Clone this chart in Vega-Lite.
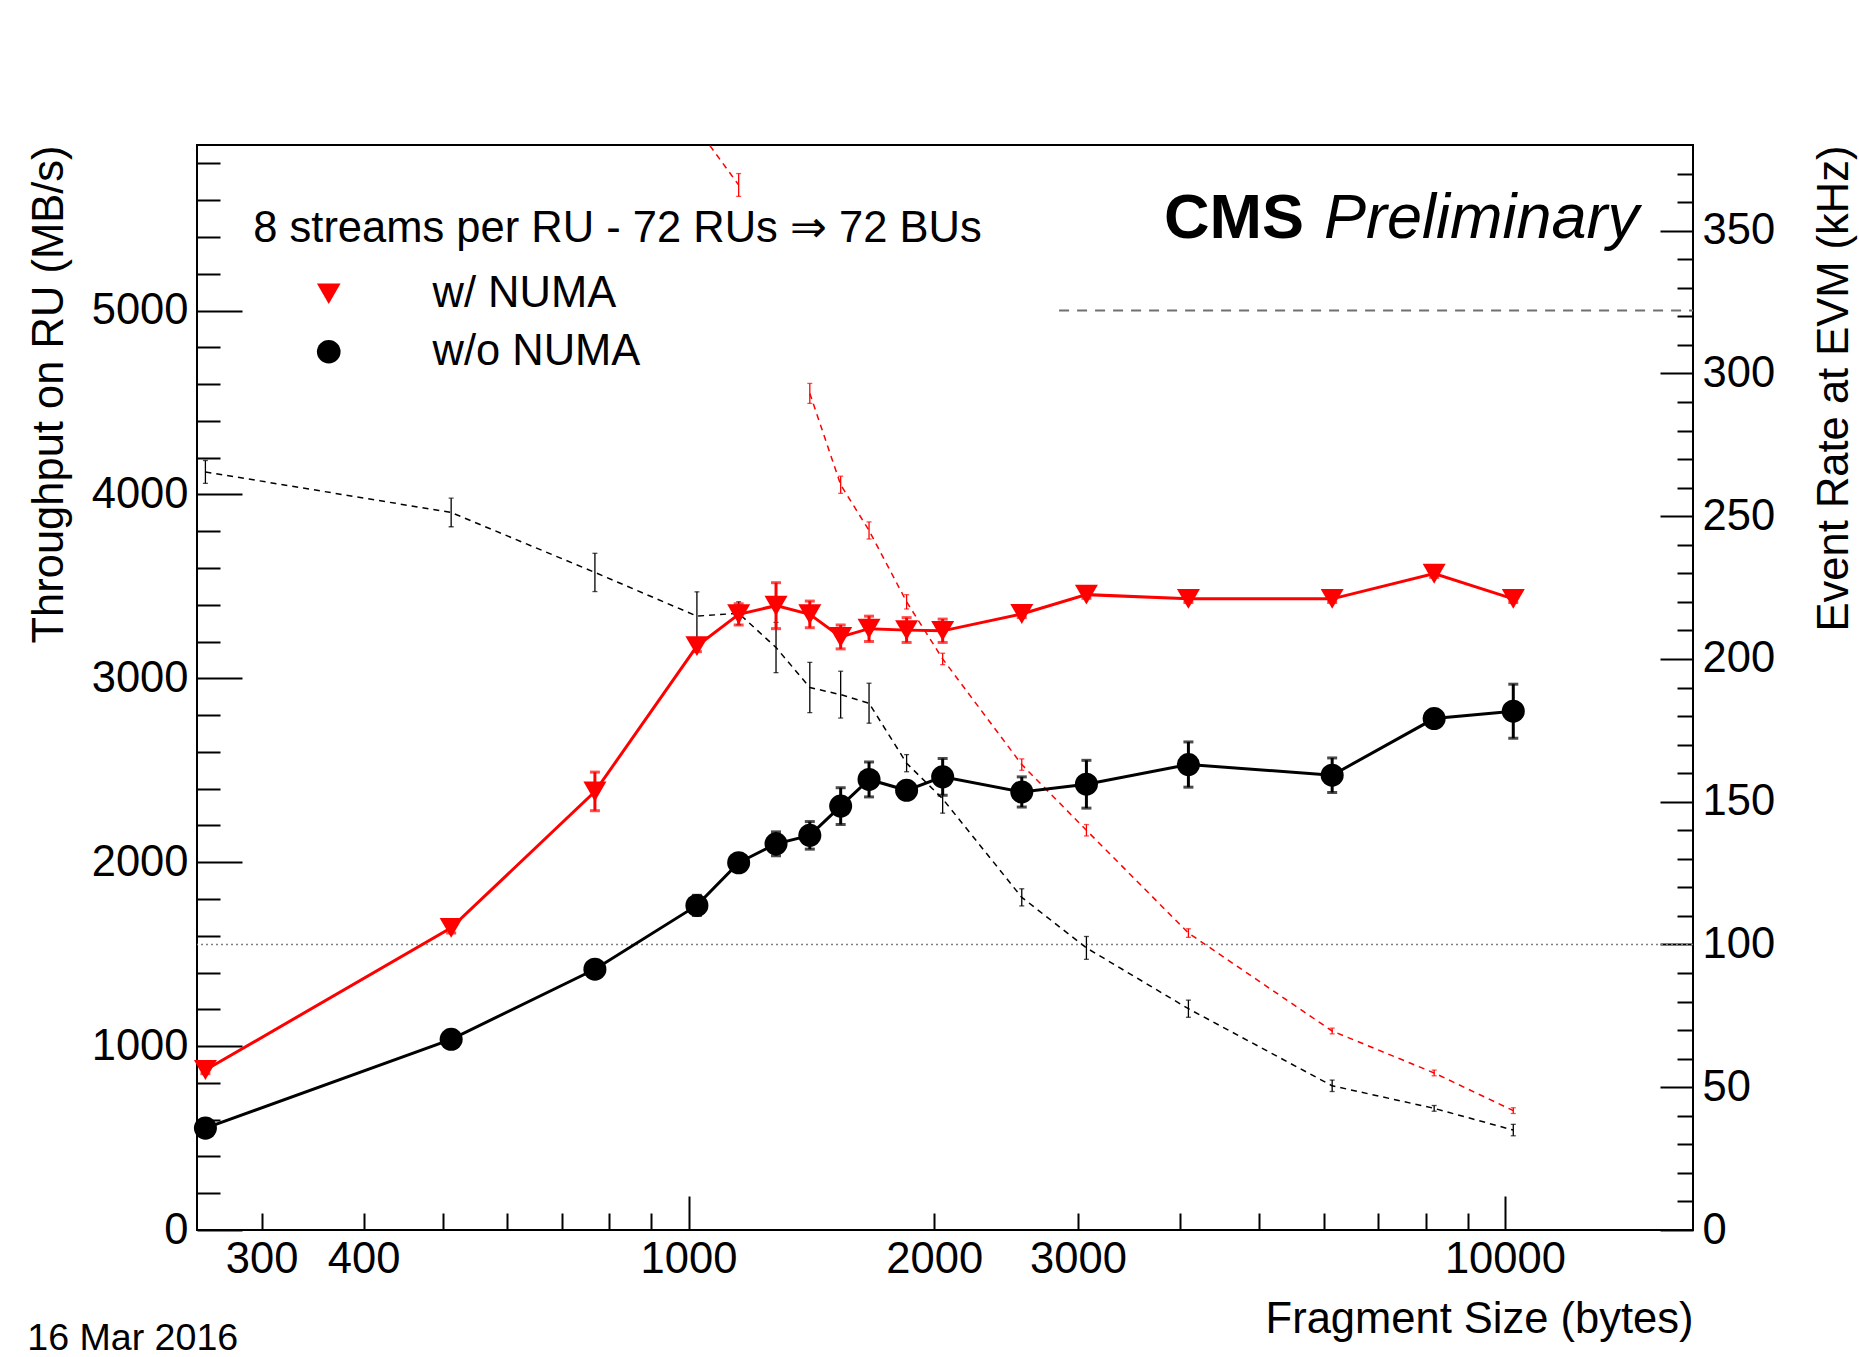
{
  "$schema": "https://vega.github.io/schema/vega-lite/v6.json",
  "width": 1496,
  "height": 1085,
  "autosize": {"type": "none"},
  "padding": {"left": 197, "top": 145, "right": 166, "bottom": 127},
  "background": "white",
  "title": {"text": "16 Mar 2016", "orient": "bottom", "anchor": "start", "frame": "bounds", "font": "Liberation Sans", "fontSize": 37.6, "fontWeight": "normal", "color": "black", "offset": -21},
  "config": {
    "view": {"stroke": "black", "strokeWidth": 2},
    "font": "Liberation Sans",
    "axis": {"domain": false, "grid": false, "tickColor": "black", "tickWidth": 2, "labelColor": "black", "labelFont": "Liberation Sans", "labelFontSize": 43.5, "titleFont": "Liberation Sans", "titleFontSize": 43.5, "titleFontWeight": "normal", "titleColor": "black", "labelFlush": false, "labelOverlap": false}
  },
  "datasets": {
    "tp": [
      {"size": 256, "tp": 870, "lo": 850, "hi": 890, "series": "w/ NUMA"},
      {"size": 512, "tp": 1643, "lo": 1615, "hi": 1671, "series": "w/ NUMA"},
      {"size": 768, "tp": 2384, "lo": 2280, "hi": 2490, "series": "w/ NUMA"},
      {"size": 1024, "tp": 3175, "lo": 3145, "hi": 3205, "series": "w/ NUMA"},
      {"size": 1152, "tp": 3348, "lo": 3290, "hi": 3405, "series": "w/ NUMA"},
      {"size": 1280, "tp": 3395, "lo": 3270, "hi": 3520, "series": "w/ NUMA"},
      {"size": 1408, "tp": 3348, "lo": 3275, "hi": 3420, "series": "w/ NUMA"},
      {"size": 1536, "tp": 3225, "lo": 3160, "hi": 3290, "series": "w/ NUMA"},
      {"size": 1664, "tp": 3270, "lo": 3200, "hi": 3338, "series": "w/ NUMA"},
      {"size": 1850, "tp": 3262, "lo": 3195, "hi": 3330, "series": "w/ NUMA"},
      {"size": 2048, "tp": 3258, "lo": 3195, "hi": 3322, "series": "w/ NUMA"},
      {"size": 2560, "tp": 3350, "lo": 3330, "hi": 3370, "series": "w/ NUMA"},
      {"size": 3072, "tp": 3455, "lo": 3435, "hi": 3475, "series": "w/ NUMA"},
      {"size": 4096, "tp": 3432, "lo": 3412, "hi": 3452, "series": "w/ NUMA"},
      {"size": 6144, "tp": 3432, "lo": 3412, "hi": 3452, "series": "w/ NUMA"},
      {"size": 8192, "tp": 3569, "lo": 3549, "hi": 3589, "series": "w/ NUMA"},
      {"size": 10240, "tp": 3432, "lo": 3412, "hi": 3452, "series": "w/ NUMA"},
      {"size": 256, "tp": 554, "lo": 539, "hi": 569, "series": "w/o NUMA"},
      {"size": 512, "tp": 1037, "lo": 1022, "hi": 1052, "series": "w/o NUMA"},
      {"size": 768, "tp": 1418, "lo": 1398, "hi": 1438, "series": "w/o NUMA"},
      {"size": 1024, "tp": 1765, "lo": 1710, "hi": 1820, "series": "w/o NUMA"},
      {"size": 1152, "tp": 1997, "lo": 1957, "hi": 2037, "series": "w/o NUMA"},
      {"size": 1280, "tp": 2100, "lo": 2035, "hi": 2165, "series": "w/o NUMA"},
      {"size": 1408, "tp": 2146, "lo": 2071, "hi": 2221, "series": "w/o NUMA"},
      {"size": 1536, "tp": 2305, "lo": 2205, "hi": 2405, "series": "w/o NUMA"},
      {"size": 1664, "tp": 2450, "lo": 2355, "hi": 2545, "series": "w/o NUMA"},
      {"size": 1850, "tp": 2391, "lo": 2351, "hi": 2431, "series": "w/o NUMA"},
      {"size": 2048, "tp": 2464, "lo": 2364, "hi": 2564, "series": "w/o NUMA"},
      {"size": 2560, "tp": 2382, "lo": 2300, "hi": 2464, "series": "w/o NUMA"},
      {"size": 3072, "tp": 2424, "lo": 2294, "hi": 2554, "series": "w/o NUMA"},
      {"size": 4096, "tp": 2531, "lo": 2408, "hi": 2654, "series": "w/o NUMA"},
      {"size": 6144, "tp": 2473, "lo": 2379, "hi": 2567, "series": "w/o NUMA"},
      {"size": 8192, "tp": 2781, "lo": 2761, "hi": 2801, "series": "w/o NUMA"},
      {"size": 10240, "tp": 2821, "lo": 2674, "hi": 2968, "series": "w/o NUMA"}
    ],
    "rate": [
      {"size": 1024, "rate": 386, "lo": 383, "hi": 389, "series": "w/ NUMA", "seg": "a"},
      {"size": 1152, "rate": 366, "lo": 362, "hi": 370, "series": "w/ NUMA", "seg": "a"},
      {"size": 1408, "rate": 293, "lo": 289.5, "hi": 296.5, "series": "w/ NUMA", "seg": "b"},
      {"size": 1536, "rate": 261, "lo": 258, "hi": 264, "series": "w/ NUMA", "seg": "b"},
      {"size": 1664, "rate": 245, "lo": 242, "hi": 248, "series": "w/ NUMA", "seg": "b"},
      {"size": 1850, "rate": 220, "lo": 217.5, "hi": 222.5, "series": "w/ NUMA", "seg": "b"},
      {"size": 2048, "rate": 200, "lo": 198, "hi": 202, "series": "w/ NUMA", "seg": "b"},
      {"size": 2560, "rate": 163, "lo": 161, "hi": 165, "series": "w/ NUMA", "seg": "b"},
      {"size": 3072, "rate": 140, "lo": 138, "hi": 142, "series": "w/ NUMA", "seg": "b"},
      {"size": 4096, "rate": 104, "lo": 102.5, "hi": 105.5, "series": "w/ NUMA", "seg": "b"},
      {"size": 6144, "rate": 69.7, "lo": 68.7, "hi": 70.7, "series": "w/ NUMA", "seg": "b"},
      {"size": 8192, "rate": 55, "lo": 54, "hi": 56, "series": "w/ NUMA", "seg": "b"},
      {"size": 10240, "rate": 41.8, "lo": 40.8, "hi": 42.8, "series": "w/ NUMA", "seg": "b"},
      {"size": 256, "rate": 265.5, "lo": 261.5, "hi": 269.5, "series": "w/o NUMA", "seg": "c"},
      {"size": 512, "rate": 251.3, "lo": 246.3, "hi": 256.3, "series": "w/o NUMA", "seg": "c"},
      {"size": 768, "rate": 230.3, "lo": 223.6, "hi": 237, "series": "w/o NUMA", "seg": "c"},
      {"size": 1024, "rate": 215, "lo": 206.5, "hi": 223.5, "series": "w/o NUMA", "seg": "c"},
      {"size": 1152, "rate": 216, "lo": 212, "hi": 220, "series": "w/o NUMA", "seg": "c"},
      {"size": 1280, "rate": 204, "lo": 195.2, "hi": 212.8, "series": "w/o NUMA", "seg": "c"},
      {"size": 1408, "rate": 190, "lo": 181.2, "hi": 198.8, "series": "w/o NUMA", "seg": "c"},
      {"size": 1536, "rate": 187.5, "lo": 179.3, "hi": 195.7, "series": "w/o NUMA", "seg": "c"},
      {"size": 1664, "rate": 184.5, "lo": 177.5, "hi": 191.5, "series": "w/o NUMA", "seg": "c"},
      {"size": 1850, "rate": 163.5, "lo": 160.5, "hi": 166.5, "series": "w/o NUMA", "seg": "c"},
      {"size": 2048, "rate": 151, "lo": 146, "hi": 156, "series": "w/o NUMA", "seg": "c"},
      {"size": 2560, "rate": 116.5, "lo": 113.5, "hi": 119.5, "series": "w/o NUMA", "seg": "c"},
      {"size": 3072, "rate": 98.8, "lo": 94.8, "hi": 102.8, "series": "w/o NUMA", "seg": "c"},
      {"size": 4096, "rate": 77.5, "lo": 74.5, "hi": 80.5, "series": "w/o NUMA", "seg": "c"},
      {"size": 6144, "rate": 50.5, "lo": 48.5, "hi": 52.5, "series": "w/o NUMA", "seg": "c"},
      {"size": 8192, "rate": 42.6, "lo": 41.6, "hi": 43.6, "series": "w/o NUMA", "seg": "c"},
      {"size": 10240, "rate": 35, "lo": 33, "hi": 37, "series": "w/o NUMA", "seg": "c"}
    ]
  },
  "layer": [
    {
      "data": {"values": [{"s": 1000, "v": 0}]},
      "mark": {"type": "point", "opacity": 0},
      "encoding": {
        "x": {"field": "s", "type": "quantitative", "scale": {"type": "log", "domain": [250, 17000], "nice": false},
          "axis": {"orient": "bottom", "title": null, "values": [300,400,500,600,700,800,900,2000,3000,4000,5000,6000,7000,8000,9000], "format": "d",
            "labelExpr": "indexof([300,400,2000,3000], datum.value) >= 0 ? datum.label : ''", "tickSize": -17, "labelPadding": 25}},
        "y": {"field": "v", "type": "quantitative", "scale": {"domain": [0, 5900], "nice": false, "zero": false},
          "axis": {"orient": "left", "title": null, "labels": false, "tickSize": -23,
            "values": [200,400,600,800,1200,1400,1600,1800,2200,2400,2600,2800,3200,3400,3600,3800,4200,4400,4600,4800,5200,5400,5600,5800]}}
      }
    },
    {
      "data": {"values": [{"s": 1000, "v": 0}]},
      "mark": {"type": "point", "opacity": 0},
      "encoding": {
        "x": {"field": "s", "type": "quantitative", "scale": {"type": "log", "domain": [250, 17000], "nice": false}, "axis": null},
        "y": {"field": "v", "type": "quantitative", "scale": {"domain": [0, 380], "nice": false, "zero": false},
          "axis": {"orient": "right", "title": null, "labels": false, "tickSize": -16,
            "values": [10,20,30,40,60,70,80,90,110,120,130,140,160,170,180,190,210,220,230,240,260,270,280,290,310,320,330,340,360,370]}}
      }
    },
    {
      "data": {"values": [{"s": 1000, "v": 0}]},
      "mark": {"type": "point", "opacity": 0},
      "encoding": {
        "x": {"field": "s", "type": "quantitative", "scale": {"type": "log", "domain": [250, 17000], "nice": false},
          "axis": {"orient": "bottom", "title": "Fragment Size (bytes)", "titleAnchor": "end", "titleAlign": "right", "titlePadding": 18,
            "values": [1000, 10000], "format": "d", "tickSize": -34, "labelPadding": 42}},
        "y": {"field": "v", "type": "quantitative", "scale": {"domain": [0, 5900], "nice": false, "zero": false},
          "axis": {"orient": "left", "title": "Throughput on RU (MB/s)", "titleAnchor": "end", "titleAlign": "right", "titlePadding": 20,
            "values": [0,1000,2000,3000,4000,5000], "format": "d", "labelAlign": "right", "labelBaseline": "middle",
            "tickSize": -45, "labelPadding": 54}}
      }
    },
    {
      "data": {"values": [{"s": 1000, "v": 0}]},
      "mark": {"type": "point", "opacity": 0},
      "encoding": {
        "x": {"field": "s", "type": "quantitative", "scale": {"type": "log", "domain": [250, 17000], "nice": false}, "axis": null},
        "y": {"field": "v", "type": "quantitative", "scale": {"domain": [0, 380], "nice": false, "zero": false},
          "axis": {"orient": "right", "title": "Event Rate at EVM (kHz)", "titleAngle": -90, "titleAlign": "right", "titleAnchor": "end", "titleBaseline": "top", "titlePadding": 39,
            "values": [0,50,100,150,200,250,300,350], "format": "d", "labelAlign": "left", "labelBaseline": "middle",
            "tickSize": -33, "labelPadding": 42}}
      }
    },
    {
      "layer": [
        {
          "data": {"values": [{"kHz": 100}]},
          "mark": {"type": "rule", "stroke": "#808080", "strokeWidth": 1.5, "strokeDash": [2, 3]},
          "encoding": {
            "y": {"field": "kHz", "type": "quantitative", "scale": {"domain": [0, 380], "nice": false, "zero": false}, "axis": null}
          }
        },
        {
          "data": {"name": "rate"},
          "mark": {"type": "line", "strokeWidth": 1.5, "strokeDash": [6, 5], "clip": true},
          "encoding": {
            "x": {"field": "size", "type": "quantitative", "scale": {"type": "log", "domain": [250, 17000], "nice": false}, "axis": null},
            "y": {"field": "rate", "type": "quantitative", "scale": {"domain": [0, 380], "nice": false, "zero": false}, "axis": null},
            "stroke": {"field": "series", "type": "nominal", "scale": {"range": ["#ff0000", "#000000"]}, "legend": null},
            "detail": {"field": "seg", "type": "nominal"}
          }
        },
        {
          "data": {"name": "rate"},
          "mark": {"type": "rule", "strokeWidth": 1.3, "clip": true},
          "encoding": {
            "x": {"field": "size", "type": "quantitative", "scale": {"type": "log", "domain": [250, 17000], "nice": false}, "axis": null},
            "y": {"field": "lo", "type": "quantitative", "scale": {"domain": [0, 380], "nice": false, "zero": false}, "axis": null},
            "y2": {"field": "hi"},
            "stroke": {"field": "series", "type": "nominal", "scale": {"range": ["#ff0000", "#000000"]}, "legend": null}
          }
        },
        {
          "data": {"name": "rate"},
          "mark": {"type": "tick", "orient": "horizontal", "size": 5, "thickness": 1.3, "clip": true},
          "encoding": {
            "x": {"field": "size", "type": "quantitative", "scale": {"type": "log", "domain": [250, 17000], "nice": false}, "axis": null},
            "y": {"field": "lo", "type": "quantitative", "scale": {"domain": [0, 380], "nice": false, "zero": false}, "axis": null},
            "fill": {"field": "series", "type": "nominal", "scale": {"range": ["#ff0000", "#000000"]}, "legend": null}
          }
        },
        {
          "data": {"name": "rate"},
          "mark": {"type": "tick", "orient": "horizontal", "size": 5, "thickness": 1.3, "clip": true},
          "encoding": {
            "x": {"field": "size", "type": "quantitative", "scale": {"type": "log", "domain": [250, 17000], "nice": false}, "axis": null},
            "y": {"field": "hi", "type": "quantitative", "scale": {"domain": [0, 380], "nice": false, "zero": false}, "axis": null},
            "fill": {"field": "series", "type": "nominal", "scale": {"range": ["#ff0000", "#000000"]}, "legend": null}
          }
        }
      ]
    },
    {
      "layer": [
        {
          "data": {"values": [{"from": 2844, "to": 17000, "mbs": 5000}]},
          "mark": {"type": "rule", "stroke": "#707070", "strokeWidth": 2, "strokeDash": [10, 8]},
          "encoding": {
            "x": {"field": "from", "type": "quantitative", "scale": {"type": "log", "domain": [250, 17000], "nice": false}, "axis": null},
            "x2": {"field": "to"},
            "y": {"field": "mbs", "type": "quantitative", "scale": {"domain": [0, 5900], "nice": false, "zero": false}, "axis": null}
          }
        },
        {
          "data": {"name": "tp"},
          "mark": {"type": "line", "strokeWidth": 3},
          "encoding": {
            "x": {"field": "size", "type": "quantitative", "scale": {"type": "log", "domain": [250, 17000], "nice": false}, "axis": null},
            "y": {"field": "tp", "type": "quantitative", "scale": {"domain": [0, 5900], "nice": false, "zero": false}, "axis": null},
            "stroke": {"field": "series", "type": "nominal", "scale": {"range": ["#ff0000", "#000000"]}, "legend": null}
          }
        },
        {
          "data": {"name": "tp"},
          "mark": {"type": "rule", "strokeWidth": 3},
          "encoding": {
            "x": {"field": "size", "type": "quantitative", "scale": {"type": "log", "domain": [250, 17000], "nice": false}, "axis": null},
            "y": {"field": "lo", "type": "quantitative", "scale": {"domain": [0, 5900], "nice": false, "zero": false}, "axis": null},
            "y2": {"field": "hi"},
            "stroke": {"field": "series", "type": "nominal", "scale": {"range": ["#ff0000", "#000000"]}, "legend": null}
          }
        },
        {
          "data": {"name": "tp"},
          "mark": {"type": "tick", "orient": "horizontal", "size": 10, "thickness": 3},
          "encoding": {
            "x": {"field": "size", "type": "quantitative", "scale": {"type": "log", "domain": [250, 17000], "nice": false}, "axis": null},
            "y": {"field": "lo", "type": "quantitative", "scale": {"domain": [0, 5900], "nice": false, "zero": false}, "axis": null},
            "fill": {"field": "series", "type": "nominal", "scale": {"range": ["#ff0000", "#000000"]}, "legend": null}
          }
        },
        {
          "data": {"name": "tp"},
          "mark": {"type": "tick", "orient": "horizontal", "size": 10, "thickness": 3},
          "encoding": {
            "x": {"field": "size", "type": "quantitative", "scale": {"type": "log", "domain": [250, 17000], "nice": false}, "axis": null},
            "y": {"field": "hi", "type": "quantitative", "scale": {"domain": [0, 5900], "nice": false, "zero": false}, "axis": null},
            "fill": {"field": "series", "type": "nominal", "scale": {"range": ["#ff0000", "#000000"]}, "legend": null}
          }
        },
        {
          "data": {"name": "tp"},
          "mark": {"type": "point", "filled": true, "size": 530, "opacity": 1, "strokeWidth": 0},
          "encoding": {
            "x": {"field": "size", "type": "quantitative", "scale": {"type": "log", "domain": [250, 17000], "nice": false}, "axis": null},
            "y": {"field": "tp", "type": "quantitative", "scale": {"domain": [0, 5900], "nice": false, "zero": false}, "axis": null},
            "color": {"field": "series", "type": "nominal", "scale": {"domain": ["w/ NUMA", "w/o NUMA"], "range": ["#ff0000", "#000000"]},
              "legend": {"title": null, "orient": "none", "legendX": 110, "legendY": 127, "padding": 0, "labelFontSize": 43.5, "labelFont": "Liberation Sans", "labelColor": "black", "labelOffset": 82, "labelLimit": 0, "rowPadding": 13, "symbolSize": 560, "symbolStrokeWidth": 0, "symbolOpacity": 1}},
            "shape": {"field": "series", "type": "nominal", "scale": {"domain": ["w/ NUMA", "w/o NUMA"], "range": ["triangle-down", "circle"]},
              "legend": {"title": null, "orient": "none", "legendX": 110, "legendY": 127, "padding": 0, "labelFontSize": 43.5, "labelFont": "Liberation Sans", "labelColor": "black", "labelOffset": 82, "labelLimit": 0, "rowPadding": 13, "symbolSize": 560, "symbolStrokeWidth": 0, "symbolOpacity": 1}}
          }
        },
        {
          "data": {"values": [{}]},
          "mark": {"type": "text", "text": "8 streams per RU - 72 RUs ⇒ 72 BUs", "align": "left", "baseline": "alphabetic", "font": "Liberation Sans", "fontSize": 43.5, "color": "black"},
          "encoding": {
            "x": {"datum": 293, "type": "quantitative", "axis": null},
            "y": {"datum": 5370, "type": "quantitative", "axis": null}
          }
        },
        {
          "data": {"values": [{}]},
          "mark": {"type": "text", "text": "CMS", "align": "left", "baseline": "alphabetic", "font": "Liberation Sans", "fontSize": 63, "fontWeight": "bold", "color": "black"},
          "encoding": {
            "x": {"datum": 3824, "type": "quantitative", "axis": null},
            "y": {"datum": 5397, "type": "quantitative", "axis": null}
          }
        },
        {
          "data": {"values": [{}]},
          "mark": {"type": "text", "text": "Preliminary", "align": "left", "baseline": "alphabetic", "font": "Liberation Sans", "fontSize": 63, "fontStyle": "italic", "color": "black"},
          "encoding": {
            "x": {"datum": 6004, "type": "quantitative", "axis": null},
            "y": {"datum": 5397, "type": "quantitative", "axis": null}
          }
        }
      ]
    }
  ],
  "resolve": {"scale": {"x": "independent", "y": "independent"}}
}
